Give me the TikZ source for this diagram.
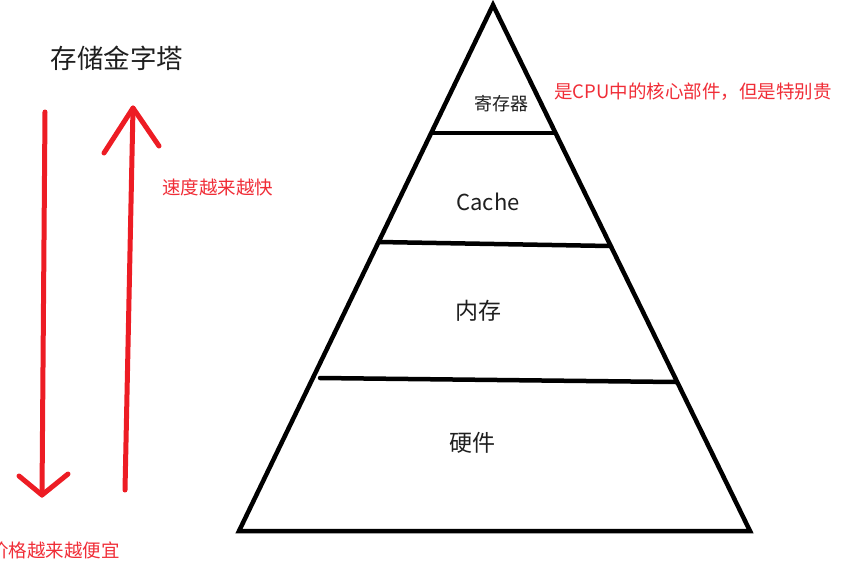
\documentclass[tikz,border=0pt]{standalone}
\usepackage{fontspec}
\setmainfont{Noto Sans CJK SC}
\usepackage{xcolor}
\usepackage{tikz}
\usetikzlibrary{positioning, calc}

\definecolor{paintred}{RGB}{237,28,36}
\definecolor{notered}{RGB}{240,45,55}

\begin{document}
\begin{tikzpicture}[
    x=1pt, y=-1pt,
    edge/.style={line width=4.5pt, line cap=round, line join=miter},
    redline/.style={paintred, line width=5pt, line cap=round, line join=round},
    layer/.style={inner sep=0pt, text=black!88},
    note/.style={inner sep=0pt, text=notered, font=\fontsize{18.5}{20}\selectfont}
]
\useasboundingbox (0,0) rectangle (858,571);
% Pyramid
\coordinate (apex) at (493,5);
\coordinate (base_l) at (239,531);
\coordinate (base_r) at (750,531);
\draw[edge] (apex) -- (base_r) -- (base_l) -- cycle;
% Dividers
\coordinate (reg_l) at (433,133);
\coordinate (reg_r) at (555,133);
\coordinate (cache_l) at (379,242);
\coordinate (cache_r) at (610,246);
\coordinate (mem_l) at (320,378);
\coordinate (mem_r) at (676,382);
\draw[edge] (reg_l) -- (reg_r);
\draw[edge] (cache_l) -- (cache_r);
\draw[edge] (mem_l) -- (mem_r);
% Layer labels
\node[layer, font=\fontsize{18}{20}\selectfont] (reg) at (501,104) {寄存器};
\node[layer, font=\fontsize{22}{24}\selectfont] (cache) at (488,202) {Cache};
\node[layer, font=\fontsize{23}{25}\selectfont] (mem) at (478,311) {内存};
\node[layer, font=\fontsize{23}{25}\selectfont] (hw) at (472,443) {硬件};
% Title and notes
\node[layer, font=\fontsize{26.5}{28}\selectfont] (title) at (117,58) {存储金字塔};
\node[note, anchor=west] (reg_note) at (554,92) {是CPU中的核心部件，但是特别贵};
\node[note, anchor=west] (speed) at (162,187) {速度越来越快};
\node[note, anchor=east] (price) at (120,550) {价格越来越便宜};
% Left — down arrow
\coordinate (dn_top) at (45,112);
\coordinate (dn_tip) at (42,495);
\coordinate (dn_l) at (19,476);
\coordinate (dn_r) at (68,474);
\draw[redline] (dn_top) -- (dn_tip);
\draw[redline] (dn_l) -- (dn_tip) -- (dn_r);
% Right — up arrow
\coordinate (up_bot) at (125,490);
\coordinate (up_tip) at (133,108);
\coordinate (up_l) at (104,153);
\coordinate (up_r) at (159,146);
\draw[redline] (up_bot) -- (up_tip);
\draw[redline] (up_l) -- (up_tip) -- (up_r);
\end{tikzpicture}
\end{document}
